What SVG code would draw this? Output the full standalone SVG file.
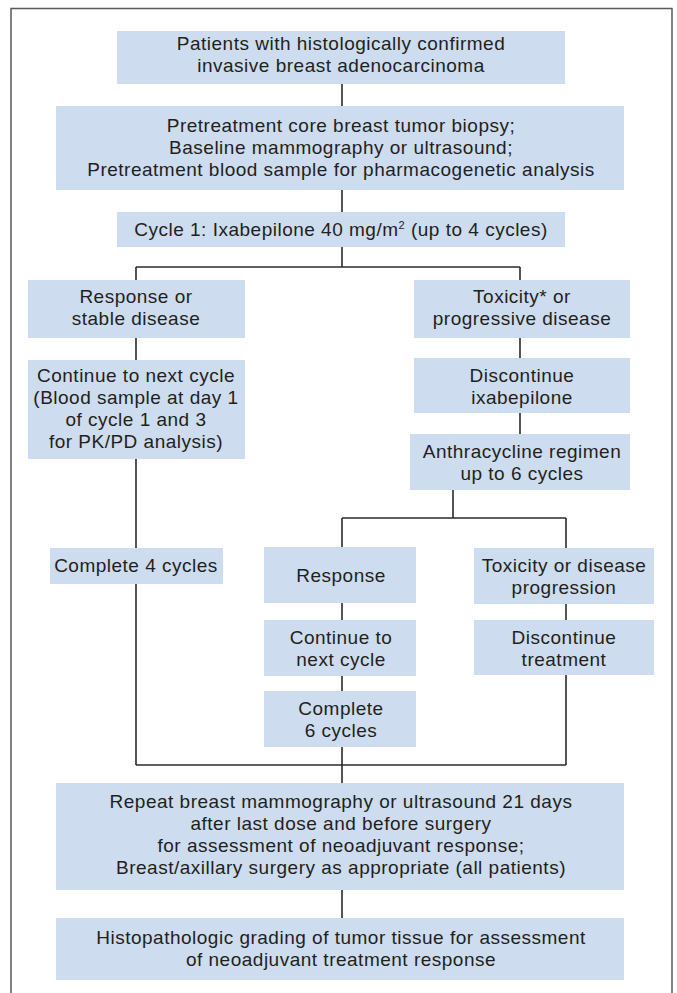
<svg xmlns="http://www.w3.org/2000/svg" width="677" height="993" viewBox="0 0 677 993">
<style>
.b{fill:#cddcee;}
.t{font-family:"Liberation Sans",Arial,sans-serif;font-size:19px;letter-spacing:0.5px;fill:#231f20;text-anchor:middle;}
.c{stroke:#2b2b2b;stroke-width:1.6;fill:none;}
.f{stroke:#5a5a5a;stroke-width:1.5;fill:none;}
</style>
<rect width="677" height="993" fill="#ffffff"/>
<path class="f" d="M11,993 V8.5 H672 V993"/>
<g id="connectors">
<path class="c" d="M342,84 V106 M342,190 V212 M342,247 V267 M136,267 H520 M136,267 V280 M520,267 V280"/>
<path class="c" d="M136,338 V360 M520,338 V358 M520,413 V434 M136,459 V548 M136,584 V765"/>
<path class="c" d="M453,490 V518 M342,518 H566 M342,518 V548 M566,518 V548"/>
<path class="c" d="M342,603 V620 M566,604 V620 M342,676 V691 M342,747 V765 M566,675 V765 M136,765 H566 M342,765 V783"/>
<path class="c" d="M342,890 V918"/>
</g>
<g id="n1"><rect class="b" x="117" y="31" width="448" height="53"/>
<text class="t" x="341" y="50">Patients with histologically confirmed</text>
<text class="t" x="341" y="72">invasive breast adenocarcinoma</text></g>
<g id="n2"><rect class="b" x="56" y="106" width="568" height="84"/>
<text class="t" x="341" y="132">Pretreatment core breast tumor biopsy;</text>
<text class="t" x="341" y="154">Baseline mammography or ultrasound;</text>
<text class="t" x="341" y="176">Pretreatment blood sample for pharmacogenetic analysis</text></g>
<g id="n3"><rect class="b" x="117" y="212" width="448" height="35"/>
<text class="t" x="341" y="236">Cycle 1: Ixabepilone 40 mg/m<tspan font-size="11" dy="-7">2</tspan><tspan dy="7"> (up to 4 cycles)</tspan></text></g>
<g id="n4a"><rect class="b" x="28" y="280" width="217" height="58"/>
<text class="t" x="136" y="303">Response or</text>
<text class="t" x="136" y="325">stable disease</text></g>
<g id="n4b"><rect class="b" x="414" y="280" width="216" height="58"/>
<text class="t" x="522" y="303">Toxicity* or</text>
<text class="t" x="522" y="325">progressive disease</text></g>
<g id="n5a"><rect class="b" x="28" y="360" width="217" height="99"/>
<text class="t" x="136" y="382">Continue to next cycle</text>
<text class="t" x="136" y="404">(Blood sample at day 1</text>
<text class="t" x="136" y="426">of cycle 1 and 3</text>
<text class="t" x="136" y="448">for PK/PD analysis)</text></g>
<g id="n5b"><rect class="b" x="414" y="358" width="216" height="55"/>
<text class="t" x="522" y="382">Discontinue</text>
<text class="t" x="522" y="404">ixabepilone</text></g>
<g id="n6b"><rect class="b" x="410" y="434" width="220" height="56"/>
<text class="t" x="522" y="458">Anthracycline regimen</text>
<text class="t" x="522" y="480">up to 6 cycles</text></g>
<g id="n7a"><rect class="b" x="50" y="548" width="173" height="36"/>
<text class="t" x="136" y="572">Complete 4 cycles</text></g>
<g id="n7b"><rect class="b" x="264" y="547" width="152" height="56"/>
<text class="t" x="341" y="582">Response</text></g>
<g id="n7c"><rect class="b" x="474" y="548" width="180" height="56"/>
<text class="t" x="564" y="572">Toxicity or disease</text>
<text class="t" x="564" y="594">progression</text></g>
<g id="n8b"><rect class="b" x="264" y="620" width="152" height="56"/>
<text class="t" x="341" y="644">Continue to</text>
<text class="t" x="341" y="666">next cycle</text></g>
<g id="n8c"><rect class="b" x="474" y="620" width="180" height="55"/>
<text class="t" x="564" y="644">Discontinue</text>
<text class="t" x="564" y="666">treatment</text></g>
<g id="n9b"><rect class="b" x="264" y="691" width="152" height="56"/>
<text class="t" x="341" y="715">Complete</text>
<text class="t" x="341" y="737">6 cycles</text></g>
<g id="n10"><rect class="b" x="56" y="783" width="568" height="107"/>
<text class="t" x="341" y="808">Repeat breast mammography or ultrasound 21 days</text>
<text class="t" x="341" y="830">after last dose and before surgery</text>
<text class="t" x="341" y="852">for assessment of neoadjuvant response;</text>
<text class="t" x="341" y="874">Breast/axillary surgery as appropriate (all patients)</text></g>
<g id="n11"><rect class="b" x="56" y="918" width="568" height="62"/>
<text class="t" x="341" y="944">Histopathologic grading of tumor tissue for assessment</text>
<text class="t" x="341" y="966">of neoadjuvant treatment response</text></g>
</svg>
